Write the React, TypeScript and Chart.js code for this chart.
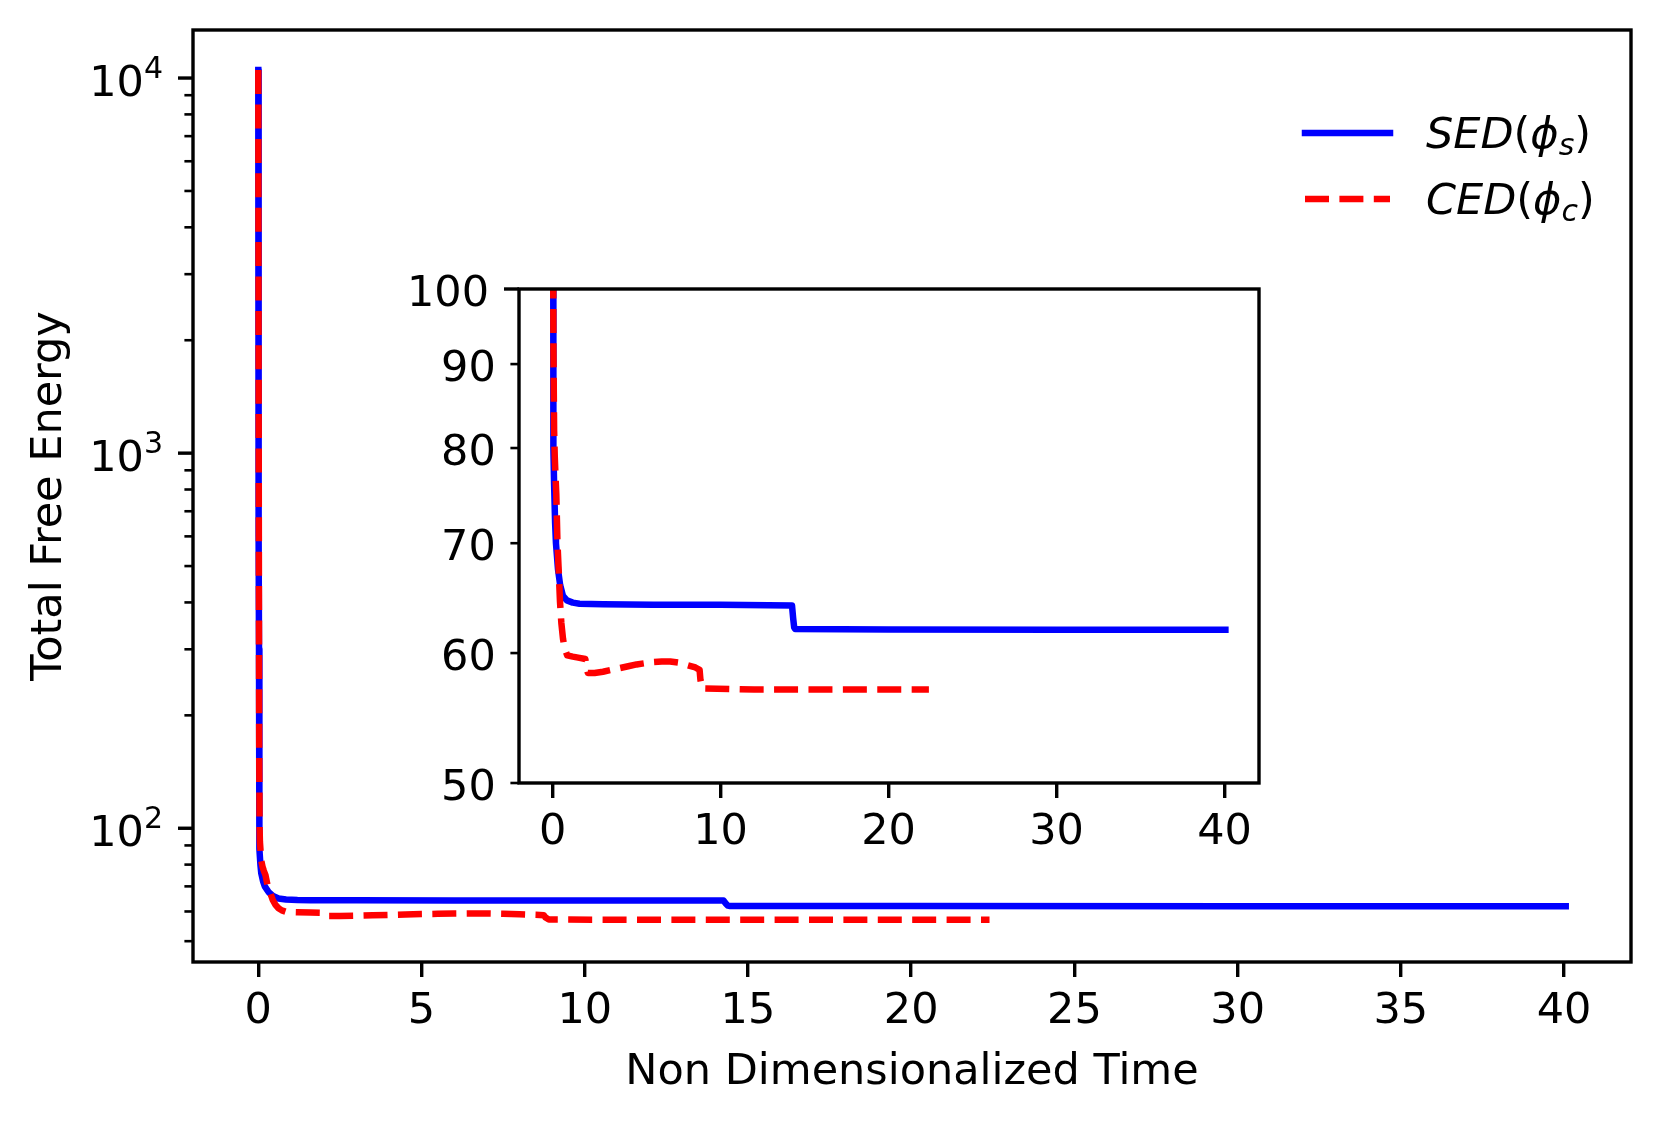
import React, { useEffect, useRef } from "react";
import { Chart, registerables } from "chart.js";

Chart.register(...registerables);

// ---------------- data ----------------
const sedTime = [
  0, 0.004, 0.008, 0.012, 0.017, 0.022, 0.026, 0.03, 0.045, 0.065, 0.09, 0.15,
  0.2, 0.32, 0.45, 0.62, 0.85, 1.2, 1.6, 3, 6, 10, 14.25, 14.32, 14.38, 14.45, 20,
  30, 40.05,
];
const sedEnergy = [
  10500, 5000, 2500, 1200, 600, 300, 170, 100, 88, 80, 76, 72, 70, 67.5, 66, 65,
  64.6, 64.4, 64.3, 64.25, 64.2, 64.2, 64.15, 63.0, 62.2, 62.05, 62.02, 62.0, 62.0,
];
const cedTime = [
  0, 0.004, 0.008, 0.012, 0.017, 0.022, 0.027, 0.04, 0.05, 0.09, 0.13, 0.17, 0.22,
  0.29, 0.36, 0.44, 0.52, 0.62, 0.72, 0.87, 1.2, 1.6, 1.95, 2.0, 2.1, 2.5, 3, 3.5,
  4, 4.5, 5, 5.5, 6, 6.5, 7, 7.5, 8, 8.5, 8.75, 8.8, 8.9, 12, 16, 20, 22.4,
];
const cedEnergy = [
  10500, 5000, 2500, 1200, 600, 300, 170, 100, 92, 82, 79, 77, 75, 70, 67.5, 64.5,
  62.6, 61.2, 60.4, 59.8, 59.7, 59.6, 59.5, 58.9, 58.35, 58.35, 58.45, 58.6, 58.75,
  58.9, 59.05, 59.15, 59.25, 59.3, 59.3, 59.2, 59.0, 58.8, 58.6, 57.8, 57.1, 57.0,
  57.0, 57.0, 57.0,
];
const seriesNames = ["SED", "CED"];
const seriesSubscripts = ["s", "c"];

const mainXTicks = [0, 5, 10, 15, 20, 25, 30, 35, 40];
const mainYMajorTicks = [100, 1000, 10000];
const mainYMinorTicks = [
  50, 60, 70, 80, 90, 200, 300, 400, 500, 600, 700, 800, 900, 2000, 3000, 4000,
  5000, 6000, 7000, 8000, 9000,
];
const insetXTicks = [0, 10, 20, 30, 40];
const insetYMajorTicks = [100];
const insetYMinorTicks = [50, 60, 70, 80, 90];

const xLimits = [-2.0, 42.05];
const mainYLimits = [44, 13430];
const insetYLimits = [50, 100];

// ---------------- style ----------------
const W = 1661;
const H = 1124;
const FAM = "'DejaVu Sans'";
const FS = 43;
const SUP_FS = 30;
const BLUE = "#0000ff";
const RED = "#ff0000";
const LW = 6.5;
const DASH = [24, 10.4];
const SPINE = 3.4;
const MAJOR_LEN = 15;
const MINOR_LEN = 8.6;
const MAJOR_W = 3.4;
const MINOR_W = 2.6;
const PAD = 15;

function makeDatasets() {
  return [
    {
      label: seriesNames[0],
      data: sedTime.map((t, i) => ({ x: t, y: sedEnergy[i] })),
      borderColor: BLUE,
      backgroundColor: BLUE,
      borderWidth: LW,
      pointRadius: 0,
      tension: 0,
      fill: false,
      borderCapStyle: "square" as const,
      borderJoinStyle: "round" as const,
      clip: 0,
      order: 1,
    },
    {
      label: seriesNames[1],
      data: cedTime.map((t, i) => ({ x: t, y: cedEnergy[i] })),
      borderColor: RED,
      backgroundColor: RED,
      borderWidth: LW,
      borderDash: DASH,
      pointRadius: 0,
      tension: 0,
      fill: false,
      borderCapStyle: "butt" as const,
      borderJoinStyle: "round" as const,
      clip: 0,
      order: 0,
    },
  ];
}

function line(ctx: CanvasRenderingContext2D, x1: number, y1: number, x2: number, y2: number, w: number) {
  ctx.lineWidth = w;
  ctx.beginPath();
  ctx.moveTo(x1, y1);
  ctx.lineTo(x2, y2);
  ctx.stroke();
}

function drawMathLabel(ctx: CanvasRenderingContext2D, x: number, baseline: number, name: string, sub: string) {
  let cx = x;
  const piece = (text: string, font: string, dy: number) => {
    ctx.font = font;
    ctx.fillText(text, cx, baseline + dy);
    cx += ctx.measureText(text).width;
  };
  piece(name, `italic ${FS}px ${FAM}`, 0);
  piece("(", `${FS}px ${FAM}`, 0);
  piece("\u03D5", `italic ${FS}px ${FAM}`, 0);
  piece(sub, `italic ${SUP_FS}px ${FAM}`, 7);
  piece(")", `${FS}px ${FAM}`, 0);
}

const mainPlugin = {
  id: "mainDecor",
  afterDraw(chart: any) {
    const ctx: CanvasRenderingContext2D = chart.ctx;
    const ca = chart.chartArea;
    const ys = chart.scales.y;
    ctx.save();
    ctx.strokeStyle = "#000";
    ctx.fillStyle = "#000";
    ctx.lineCap = "butt";
    mainYMinorTicks.forEach((v) => {
      const y = ys.getPixelForValue(v);
      line(ctx, ca.left - MINOR_LEN, y, ca.left, y, MINOR_W);
    });
    mainYMajorTicks.forEach((v) => {
      const y = ys.getPixelForValue(v);
      line(ctx, ca.left - MAJOR_LEN, y, ca.left, y, MAJOR_W);
      const exp = String(Math.round(Math.log10(v)));
      ctx.textAlign = "left";
      ctx.textBaseline = "alphabetic";
      ctx.font = `${SUP_FS}px ${FAM}`;
      const supW = ctx.measureText(exp).width;
      ctx.font = `${FS}px ${FAM}`;
      const baseW = ctx.measureText("10").width;
      const right = ca.left - MAJOR_LEN - PAD;
      const x0 = right - supW - baseW;
      ctx.fillText("10", x0, y + 18);
      ctx.font = `${SUP_FS}px ${FAM}`;
      ctx.fillText(exp, x0 + baseW, y);
    });
    // frame
    ctx.lineWidth = SPINE;
    ctx.lineJoin = "miter";
    ctx.strokeRect(ca.left, ca.top, ca.right - ca.left, ca.bottom - ca.top);
    // legend
    const colors = [BLUE, RED];
    const rows = [ca.top + 103, ca.top + 169];
    rows.forEach((ry, i) => {
      ctx.strokeStyle = colors[i];
      ctx.lineWidth = LW;
      if (i === 0) {
        ctx.setLineDash([]);
        ctx.lineCap = "square";
      } else {
        ctx.setLineDash(DASH);
        ctx.lineCap = "butt";
      }
      ctx.beginPath();
      ctx.moveTo(ca.right - 326, ry);
      ctx.lineTo(ca.right - 241, ry);
      ctx.stroke();
      ctx.setLineDash([]);
      ctx.fillStyle = "#000";
      ctx.textAlign = "left";
      ctx.textBaseline = "alphabetic";
      drawMathLabel(ctx, ca.right - 205, ry + 15, seriesNames[i], seriesSubscripts[i]);
    });
    ctx.restore();
  },
};

const insetPlugin = {
  id: "insetDecor",
  beforeDraw(chart: any) {
    const ctx: CanvasRenderingContext2D = chart.ctx;
    const ca = chart.chartArea;
    ctx.save();
    ctx.fillStyle = "#fff";
    ctx.fillRect(ca.left, ca.top, ca.right - ca.left, ca.bottom - ca.top);
    ctx.restore();
  },
  afterDraw(chart: any) {
    const ctx: CanvasRenderingContext2D = chart.ctx;
    const ca = chart.chartArea;
    const ys = chart.scales.y;
    ctx.save();
    ctx.strokeStyle = "#000";
    ctx.fillStyle = "#000";
    ctx.lineCap = "butt";
    ctx.textAlign = "right";
    ctx.textBaseline = "alphabetic";
    ctx.font = `${FS}px ${FAM}`;
    insetYMinorTicks.forEach((v) => {
      const y = ys.getPixelForValue(v);
      line(ctx, ca.left - MINOR_LEN, y, ca.left, y, MINOR_W);
      ctx.fillText(String(v), ca.left - MINOR_LEN - 14.6, y + 16.5);
    });
    insetYMajorTicks.forEach((v) => {
      const y = ys.getPixelForValue(v);
      line(ctx, ca.left - MAJOR_LEN, y, ca.left, y, MAJOR_W);
      ctx.fillText(String(v), ca.left - MAJOR_LEN - PAD, y + 16.5);
    });
    ctx.lineWidth = SPINE;
    ctx.lineJoin = "miter";
    ctx.strokeRect(ca.left, ca.top, ca.right - ca.left, ca.bottom - ca.top);
    ctx.restore();
  },
};

function xScale(ticks: number[], height: number, title?: string) {
  return {
    type: "linear" as const,
    min: xLimits[0],
    max: xLimits[1],
    bounds: "data" as const,
    afterBuildTicks: (s: any) => {
      s.ticks = ticks.map((v) => ({ value: v }));
    },
    afterFit: (s: any) => {
      s.height = height;
    },
    grid: {
      display: true,
      drawOnChartArea: false,
      drawTicks: true,
      tickLength: MAJOR_LEN,
      tickWidth: MAJOR_W,
      tickColor: "#000",
      color: "#000",
      lineWidth: MAJOR_W,
    },
    border: { display: false },
    ticks: {
      font: { family: FAM, size: FS },
      color: "#000",
      padding: 9,
      maxRotation: 0,
      minRotation: 0,
      autoSkip: false,
    },
    title: title
      ? {
          display: true,
          text: title,
          font: { family: FAM, size: FS },
          color: "#000",
          padding: { top: 0, bottom: 25 },
        }
      : { display: false },
  };
}

export default function App() {
  const mainRef = useRef<HTMLCanvasElement>(null);
  const insetRef = useRef<HTMLCanvasElement>(null);

  useEffect(() => {
    document.body.style.margin = "0";
    const main = new Chart(mainRef.current as HTMLCanvasElement, {
      type: "line",
      data: { datasets: makeDatasets() as any },
      options: {
        responsive: false,
        animation: false,
        devicePixelRatio: 1,
        events: [],
        layout: { padding: { left: 0, top: 30, right: 30, bottom: 0 } },
        plugins: { legend: { display: false }, tooltip: { enabled: false } },
        scales: {
          x: xScale(mainXTicks, 162, "Non Dimensionalized Time") as any,
          y: {
            type: "logarithmic",
            min: mainYLimits[0],
            max: mainYLimits[1],
            bounds: "data",
            afterFit: (s: any) => {
              s.width = 193;
            },
            grid: { display: false },
            border: { display: false },
            ticks: { display: false },
            title: {
              display: true,
              text: "Total Free Energy",
              font: { family: FAM, size: FS },
              color: "#000",
              padding: { top: 24, bottom: 0 },
            },
          } as any,
        },
      },
      plugins: [mainPlugin],
    });

    const inset = new Chart(insetRef.current as HTMLCanvasElement, {
      type: "line",
      data: { datasets: makeDatasets() as any },
      options: {
        responsive: false,
        animation: false,
        devicePixelRatio: 1,
        events: [],
        layout: { padding: { left: 519, top: 289, right: 402, bottom: 0 } },
        plugins: { legend: { display: false }, tooltip: { enabled: false } },
        scales: {
          x: xScale(insetXTicks, 341) as any,
          y: {
            type: "logarithmic",
            min: insetYLimits[0],
            max: insetYLimits[1],
            bounds: "data",
            display: false,
          } as any,
        },
      },
      plugins: [insetPlugin],
    });

    return () => {
      main.destroy();
      inset.destroy();
    };
  }, []);

  const canvasStyle: React.CSSProperties = {
    position: "absolute",
    left: 0,
    top: 0,
    width: W,
    height: H,
    display: "block",
  };

  return (
    <div style={{ position: "relative", width: W, height: H, background: "#fff", overflow: "hidden" }}>
      <canvas ref={mainRef} width={W} height={H} style={canvasStyle} />
      <canvas ref={insetRef} width={W} height={H} style={canvasStyle} />
    </div>
  );
}
